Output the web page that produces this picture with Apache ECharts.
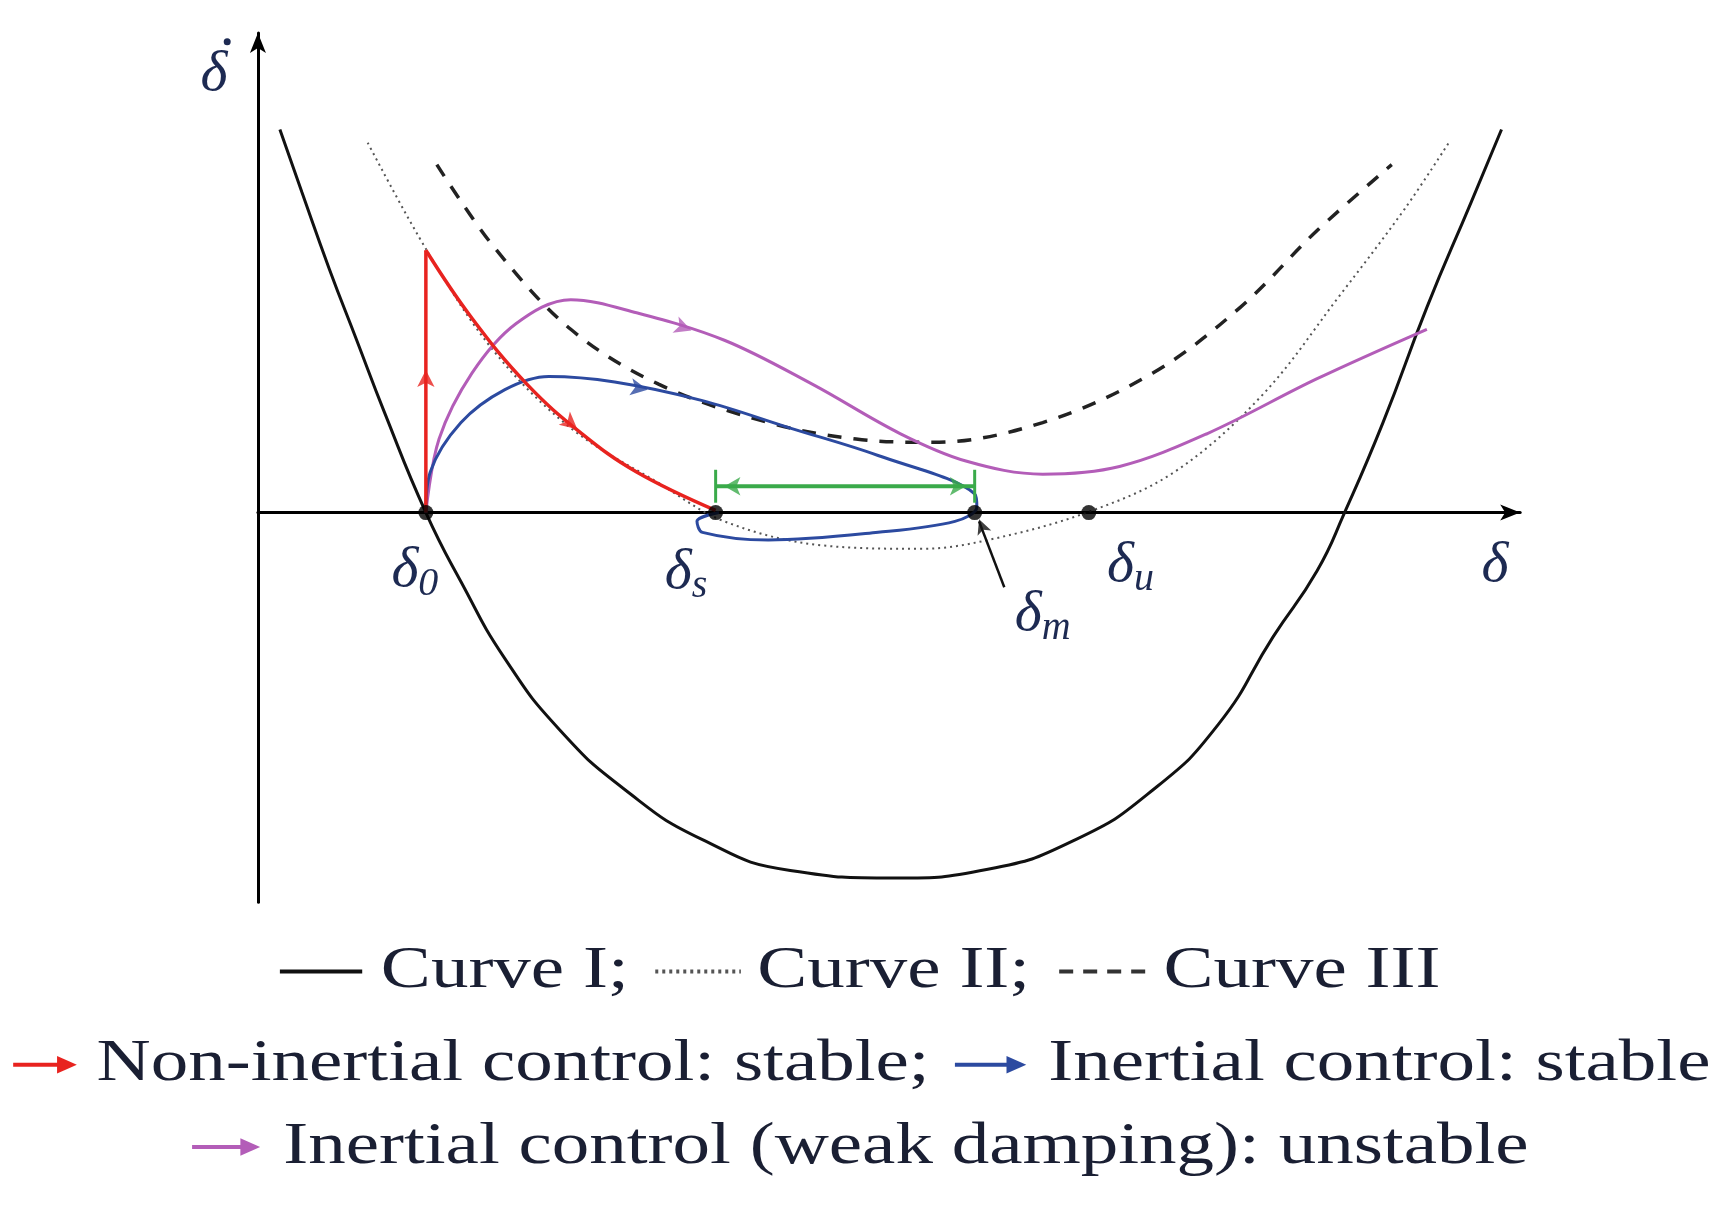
<!DOCTYPE html>
<html><head><meta charset="utf-8">
<script src="https://cdn.jsdelivr.net/npm/echarts@6/dist/echarts.min.js"></script>
<style>html,body{margin:0;background:#fff}#c{width:1721px;height:1208px}</style>
</head><body><div id="c"></div>
<script>
// phase plane data, origin at axis crossing
var curve1 = [[20,349],[40,292],[65,222],[90,157],[115,92],[153,0],[185,-63],[225,-133],[275,-198],[335,-253],[405,-298],[485,-326],[580,-333],[665,-325],[745,-298],[815,-253],[875,-193],[925,-113],[965,-53],[990,0],[1025,82],[1065,187],[1105,282],[1133,349]];
var curve2 = [[100,337],[155,237],[215,147],[285,77],[365,27],[425,-8],[515,-30],[605,-33],[665,-25],[755,0],[835,37],[915,107],[985,197],[1045,277],[1085,337]];
var curve3 = [[163,317],[215,242],[285,167],[365,117],[465,82],[545,67],[615,64],[715,82],[815,127],[895,187],[965,257],[1033,317]];
var redRise = [[153,0],[153,239]];
var redFall = [[153,239],[195,177],[245,117],[295,72],[345,37],[417,2]];
var bluePath = [[153,0],[157,37],[185,82],[225,112],[265,124],[325,119],[405,102],[485,77],[565,52],[653,17],[655,5],[635,-8],[565,-18],[465,-25],[405,-18],[400,-8],[420,0]];
var magentaPath = [[153,0],[165,67],[195,127],[235,172],[285,194],[345,182],[425,157],[505,117],[585,72],[645,47],[715,35],[785,42],[865,72],[965,122],[1065,167]];
var greenSpan = [[417,24],[653,24]];
var keyPoints = [[153,0],[417,0],[757,0],[653,0]];
var pointerLine = [[680,-68],[657,-8]];
// arrow heads: [x, y, rotation]
var redArrows = [[153,130,0],[291,76,-130]];
var blueArrows = [[355,112,-100]];
var magentaArrows = [[395,166,-110]];
var greenArrows = [[425,24,90],[645,24,-90]];
var pointerArrows = [[657,-6,21]];

var S = 1.0976;
var chart = echarts.init(document.getElementById('c'));
var serif = '"Liberation Serif", "DejaVu Serif", serif';
var red = '#e8231f', blue = '#2c4aa0', mag = '#b35db8', green = '#3aaa4a';

function lineSeries(data, color, type, width, smooth) {
  return {type: 'line', data: data, smooth: smooth, symbol: 'none', clip: false,
    lineStyle: {color: color, type: type, width: width}, z: 3};
}
function arrowSeries(data, color, size) {
  return {type: 'scatter', clip: false, z: 5,
    data: data.map(function (a) { return {value: [a[0], a[1]], symbolRotate: a[2]}; }),
    symbol: 'arrow', symbolSize: size || [13, 17], itemStyle: {color: color}};
}
function txt(x, y, parts) {
  return {type: 'text', x: x * S, y: y * S, style: {rich: {
      i: {fontFamily: serif, fontStyle: 'italic', fontSize: 58, fill: '#1d2a52'},
      s: {fontFamily: serif, fontStyle: 'italic', fontSize: 40, fill: '#1d2a52', padding: [28, 0, 0, 0]}
    }, text: parts, align: 'center', verticalAlign: 'middle'}};
}
function ltxt(x, y, t) {
  return {type: 'text', x: x * S, y: y * S, scaleX: 1.25,
    style: {text: t, font: '60px ' + serif, fill: '#1a1f33', verticalAlign: 'middle'}};
}
function lline(x1, x2, y, color, dash) {
  return {type: 'line', shape: {x1: x1 * S, y1: y * S, x2: x2 * S, y2: y * S},
    style: {stroke: color, lineWidth: 4, lineDash: dash || null}};
}
function larrow(x1, x2, y, color) {
  return [lline(x1, x2 - 14, y, color),
    {type: 'polygon', shape: {points: [[(x2 - 18) * S, (y - 8) * S], [x2 * S, y * S], [(x2 - 18) * S, (y + 8) * S]]}, style: {fill: color}}];
}

var graphics = [
  txt(195, 68, '{i|δ}'),
  {type: 'circle', shape: {cx: 207 * S, cy: 38 * S, r: 3.5}, style: {fill: '#1d2a52'}},
  txt(378, 520, '{i|δ}{s|0}'),
  txt(625, 522, '{i|δ}{s|s}'),
  txt(950, 560, '{i|δ}{s|m}'),
  txt(1030, 515, '{i|δ}{s|u}'),
  txt(1362, 515, '{i|δ}'),
  lline(255, 330, 885, '#111'), ltxt(347, 885, 'Curve I;'),
  lline(597, 675, 885, '#555', [3, 4]), ltxt(690, 885, 'Curve II;'),
  lline(965, 1045, 885, '#333', [14, 10]), ltxt(1060, 885, 'Curve III'),
  ltxt(88, 970, 'Non-inertial control: stable;'),
  ltxt(955, 970, 'Inertial control: stable'),
  ltxt(258, 1045, 'Inertial control (weak damping): unstable')
].concat(larrow(12, 70, 970, red), larrow(870, 935, 970, blue), larrow(175, 237, 1045, mag));

chart.setOption({
  animation: false,
  grid: {left: 235 * S, top: 30 * S, width: 1150 * S, height: 792 * S},
  xAxis: {type: 'value', min: 0, max: 1150, splitLine: {show: false}, axisTick: {show: false}, axisLabel: {show: false},
    axisLine: {onZero: true, symbol: ['none', 'arrow'], symbolSize: [12, 20], lineStyle: {color: '#000', width: 3}}},
  yAxis: {type: 'value', min: -355, max: 437, splitLine: {show: false}, axisTick: {show: false}, axisLabel: {show: false},
    axisLine: {onZero: true, symbol: ['none', 'arrow'], symbolSize: [12, 20], lineStyle: {color: '#000', width: 3}}},
  series: [
    lineSeries(curve1, '#111', 'solid', 3, true),
    lineSeries(curve2, '#555', [2, 4], 2, 0.35),
    lineSeries(curve3, '#222', [14, 12], 3.5, 0.35),
    lineSeries(magentaPath, mag, 'solid', 3, 0.35),
    lineSeries(bluePath, blue, 'solid', 3, 0.35),
    lineSeries(redRise, red, 'solid', 3.5, false),
    lineSeries(redFall, red, 'solid', 3.5, 0.4),
    lineSeries(greenSpan, green, 'solid', 4, false),
    lineSeries([[417, 39], [417, 9]], green, 'solid', 3, false),
    lineSeries([[653, 39], [653, 9]], green, 'solid', 3, false),
    lineSeries(pointerLine, '#111', 'solid', 2.5, false),
    arrowSeries(redArrows, red), arrowSeries(blueArrows, blue), arrowSeries(magentaArrows, mag),
    arrowSeries(greenArrows, green, [14, 16]), arrowSeries(pointerArrows, '#111', [11, 15]),
    {type: 'scatter', data: keyPoints, symbolSize: 15, itemStyle: {color: '#000'}, z: 6}
  ],
  graphic: graphics
});
</script></body></html>
